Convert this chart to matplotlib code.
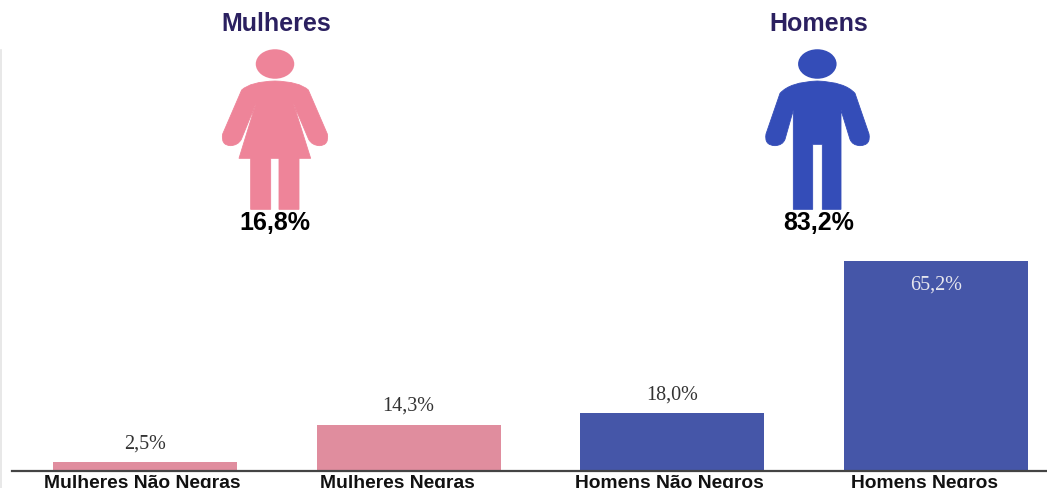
import matplotlib.pyplot as plt
from matplotlib.patches import Ellipse, PathPatch
from matplotlib.path import Path

categories = ["Mulheres Não Negras", "Mulheres Negras", "Homens Não Negros", "Homens Negros"]
values = [2.5, 14.3, 18.0, 65.2]
value_labels = ["2,5%", "14,3%", "18,0%", "65,2%"]
bar_colors = ["#E08D9E", "#E08D9E", "#4556A8", "#4556A8"]
label_shift = [-0.011, -0.042, -0.010, -0.042]

group_names = ["Mulheres", "Homens"]
group_shares = ["16,8%", "83,2%"]

WOMAN = [
    (285, 243, "L"), (212, 245, "C"), (185, 270, "L"), (128, 402, "L"), (122, 436, "C"),
    (152, 437, "L"), (174, 436, "C"), (184, 418, "L"), (228, 310, "L"), (177, 475, "L"),
    (212, 475, "L"), (212, 628, "L"), (272, 628, "L"), (272, 475, "L"), (297, 475, "L"),
    (297, 628, "L"), (357, 628, "L"), (357, 475, "L"), (392, 475, "L"), (340, 310, "L"),
    (386, 418, "L"), (396, 436, "C"), (418, 437, "L"), (448, 436, "C"), (442, 402, "L"),
    (385, 270, "L"), (358, 245, "C"), (285, 243, "L"),
]
MAN = [
    (262, 243, "L"), (180, 246, "C"), (150, 280, "L"), (108, 402, "L"), (102, 436, "C"),
    (135, 437, "L"), (158, 436, "C"), (165, 418, "L"), (190, 330, "L"), (190, 628, "L"),
    (248, 628, "L"), (248, 433, "L"), (277, 433, "L"), (277, 628, "L"), (333, 628, "L"),
    (333, 330, "L"), (360, 418, "L"), (367, 436, "C"), (390, 437, "L"), (423, 436, "C"),
    (417, 402, "L"), (375, 280, "L"), (345, 246, "C"), (262, 243, "L"),
]


def draw_person(ax, outline, left, head_x, color):
    """Draw a pictogram from the outline given in 3x crop coordinates."""
    verts = []
    codes = []
    for i, (x, y, kind) in enumerate(outline):
        verts.append((left + x / 3, y / 3))
        if i == 0:
            codes.append(Path.MOVETO)
        elif kind == "C" or outline[i - 1][2] == "C":
            codes.append(Path.CURVE3)
        else:
            codes.append(Path.LINETO)
    ax.add_patch(PathPatch(Path(verts, codes), facecolor=color, edgecolor=color, lw=0.6))
    ax.add_patch(Ellipse((left + head_x / 3, 64), 38.5, 29.5, facecolor=color, edgecolor="none"))


fig = plt.figure(figsize=(10.47, 4.88), dpi=100)
W, H = 1047, 488
BASE_Y = 470.5
PX_X = 263.67
PX_Y = 3.215

ax = fig.add_axes([12 / W, (H - BASE_Y) / H, (W - 12) / W, BASE_Y / H])
ax.set_xlim((12 - 145) / PX_X, (W - 145) / PX_X)
ax.set_ylim(0, BASE_Y / PX_Y)
x = list(range(len(categories)))
ax.bar(x, values, width=184 / PX_X, color=bar_colors)
for i, (v, lab) in enumerate(zip(values, value_labels)):
    inside = v > 50
    ax.text(i, v - 8.9 if inside else v + 4.2, lab, ha="center", va="baseline",
            fontsize=14.5, family="Liberation Serif",
            color="#E6E6EE" if inside else "#333333")
for s in ["top", "left", "right"]:
    ax.spines[s].set_visible(False)
ax.spines["bottom"].set_linewidth(1.6)
ax.spines["bottom"].set_color("#444444")
ax.set_yticks([])
ax.set_xticks([i + d for i, d in zip(x, label_shift)])
ax.set_xticklabels(categories, fontsize=13.9, fontweight="bold",
                   family="Liberation Sans", color="#111111")
ax.tick_params(axis="x", length=0, pad=3)

# overlay in pixel coordinates for the pictograms and the headers
top = fig.add_axes([0, 0, 1, 1], facecolor="none")
top.set_xlim(0, W)
top.set_ylim(H, 0)
top.axis("off")
top.plot([0.8, 0.8], [50, H], color="#E4E4E4", lw=1.2)
draw_person(top, WOMAN, 180, 285, "#EE8499")
draw_person(top, MAN, 730, 262, "#344DB8")
for cx, name in zip([276.5, 818.5], group_names):
    top.text(cx, 31, name, ha="center", va="baseline", fontsize=18, fontweight="bold",
             family="Liberation Sans", color="#2B2060")
for cx, share in zip([275, 818.5], group_shares):
    top.text(cx, 230, share, ha="center", va="baseline", fontsize=18, fontweight="bold",
             family="Liberation Sans", color="black")

fig.savefig("out.png", dpi=100)
